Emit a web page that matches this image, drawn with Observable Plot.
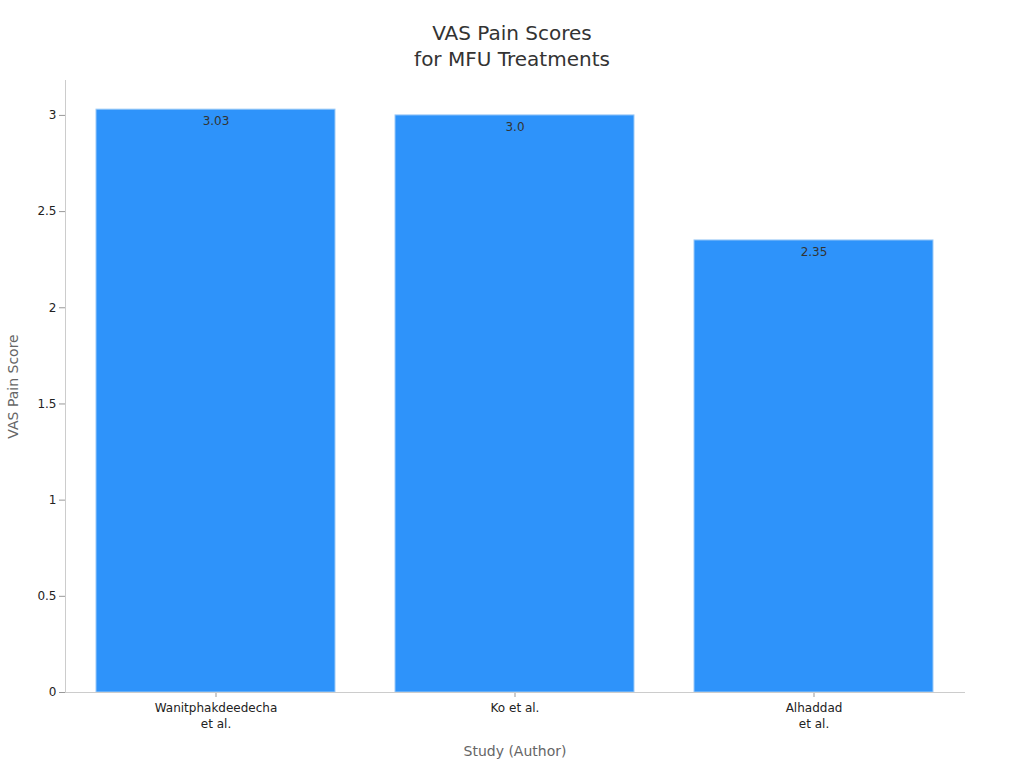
<!DOCTYPE html>
<html>
<head>
<meta charset="utf-8">
<script src="https://cdn.jsdelivr.net/npm/d3@7"></script>
<script src="https://cdn.jsdelivr.net/npm/@observablehq/plot@0.6"></script>
<style>
  body { margin: 0; background: #fff; font-family: "DejaVu Sans", sans-serif; }
  #title { height: 76px; box-sizing: border-box; padding-top: 20px; text-align: center; font-size: 20px; line-height: 26px; color: #333; }
  #chart svg { display: block; }
</style>
</head>
<body>
<div id="title">VAS Pain Scores<br>for MFU Treatments</div>
<div id="chart"></div>
<script>
const studies = ["Wanitphakdeedecha\net al.", "Ko et al.", "Alhaddad\net al."];
const scores = [3.03, 3.0, 2.35];
const labels = ["3.03", "3.0", "2.35"];
const yTicks = [0, 0.5, 1, 1.5, 2, 2.5, 3];
const yTickLabels = ["0", "0.5", "1", "1.5", "2", "2.5", "3"];

const data = studies.map((s, i) => ({study: s, score: scores[i], label: labels[i]}));

const chart = Plot.plot({
  width: 1024,
  height: 692,
  marginTop: 4,
  marginBottom: 76,
  marginLeft: 65,
  marginRight: 60,
  style: {fontFamily: "DejaVu Sans, sans-serif", fontSize: "12px", color: "#222", background: "#fff"},
  x: {domain: studies, paddingInner: 0.2, paddingOuter: 0.1, label: null},
  y: {domain: [0, 3.03 * 1.05], label: null},
  marks: [
    Plot.barY(data, {x: "study", y: "score", fill: "#2e93fa", stroke: "#9ccaf7", strokeWidth: 1}),
    Plot.text(data, {x: "study", y: "score", text: "label", dy: 12, fill: "#333", fontSize: 12}),
    Plot.axisY({ticks: yTicks, tickFormat: (d) => yTickLabels[yTicks.indexOf(d)], tickSize: 6, tickPadding: 3, stroke: "#999", fill: "#222", fontSize: 12, label: null}),
    Plot.axisX({tickSize: 5, tickPadding: 3, stroke: "#999", fill: "#222", fontSize: 12, lineHeight: 1.35, label: null}),
    Plot.frame({anchor: "left", stroke: "#ccc"}),
    Plot.frame({anchor: "bottom", stroke: "#ccc"}),
    Plot.text(["VAS Pain Score"], {frameAnchor: "left", textAnchor: "middle", dx: -52, rotate: -90, fill: "#666", fontSize: 14}),
    Plot.text(["Study (Author)"], {frameAnchor: "bottom", dy: 63, fill: "#666", fontSize: 14})
  ]
});
document.getElementById("chart").appendChild(chart);
</script>
</body>
</html>
